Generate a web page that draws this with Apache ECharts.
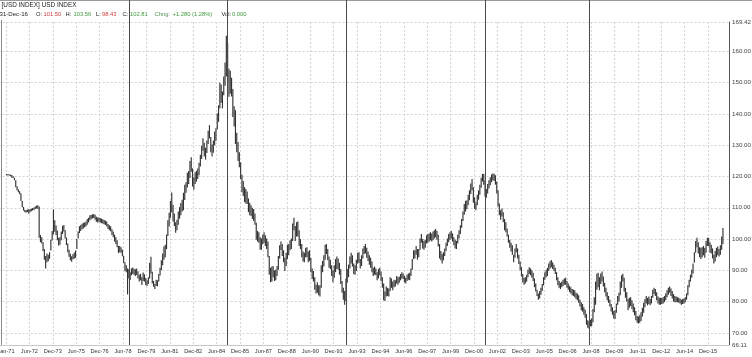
<!DOCTYPE html>
<html><head><meta charset="utf-8">
<script src="https://cdn.jsdelivr.net/npm/echarts@6/dist/echarts.min.js"></script>
<style>html,body{margin:0;padding:0;background:#fff}#c{width:752px;height:357px}</style>
</head><body><div id="c"></div>
<script>
// x tick labels, one every 18 months starting Jan 1971
const xTickLabels = ['Jan-71','Jun-72','Dec-73','Jun-75','Dec-76','Jun-78','Dec-79','Jun-81','Dec-82','Jun-84',
  'Dec-85','Jun-87','Dec-88','Jun-90','Dec-91','Jun-93','Dec-94','Jun-96','Dec-97','Jun-99',
  'Dec-00','Jun-02','Dec-03','Jun-05','Dec-06','Jun-08','Dec-09','Jun-11','Dec-12','Jun-14','Dec-15'];
const yTickValues = [66.11,70,80,90,100,110,120,130,140,150,160,169.42];
// cycle marker positions, in months since Jan 1971
const cycleMonths = [94.4,169.8,261.3,368.5,448.5];
const headerTitle = '[USD INDEX] USD INDEX';
const quoteDate = '31-Dec-16';
const quoteOpen = '101.50', quoteHigh = '103.56', quoteLow = '98.43', quoteClose = '102.81';
const quoteChange = '+1.280 (1.28%)', quoteVol = '0.000';

// monthly lows, Jan 1971 .. Dec 2016 (one row per year)
const lows = [
120.4,120.3,120.3,120.1,119.6,119.5,118.8,116.6,115.6,115.0,114.3,112.2,
110.2,109.1,108.6,108.5,108.6,108.1,108.6,108.9,109.1,109.3,109.6,109.8,
109.6,100.4,99.0,98.6,96.2,93.4,90.6,92.6,92.9,93.7,96.3,99.5,
101.5,102.3,101.3,99.6,97.9,98.2,99.6,101.6,102.4,100.2,98.1,95.8,
94.3,93.2,92.7,93.5,93.7,94.0,96.8,100.2,101.9,102.6,103.1,103.4,
103.8,104.0,104.6,105.3,106.0,106.3,106.6,106.7,106.2,105.5,105.3,105.5,
105.3,105.1,104.9,104.7,104.5,104.0,103.2,102.8,102.5,101.3,100.6,99.2,
98.4,97.4,95.5,95.8,95.6,94.5,92.3,89.8,89.4,82.3,87.4,86.9,
88.4,88.8,88.6,88.2,88.5,87.4,86.4,86.8,85.3,86.6,86.4,85.3,
85.0,85.6,87.4,89.0,85.8,84.8,84.0,85.0,84.9,86.4,88.3,90.0,
91.6,93.4,94.2,96.8,101.0,104.0,106.8,108.5,105.6,104.2,102.0,102.8,
104.6,106.5,107.6,108.8,109.2,112.5,114.8,116.5,117.6,119.5,121.5,116.8,
115.8,117.6,118.4,119.2,120.4,123.2,125.6,128.2,126.4,125.4,127.5,130.4,
132.2,127.8,126.4,127.6,130.0,131.4,135.0,137.5,141.8,143.6,141.8,146.0,
149.0,152.0,150.4,145.5,146.5,145.6,139.0,136.0,130.4,127.8,125.0,123.0,
119.2,115.0,113.8,111.8,111.4,111.2,108.6,107.6,107.4,106.4,105.8,104.6,
99.8,99.2,98.8,96.6,96.6,98.3,98.8,97.8,96.8,94.2,88.6,86.2,
86.4,87.8,86.6,86.8,88.2,90.2,93.8,96.5,94.6,92.6,89.8,91.4,
93.6,94.8,96.4,96.8,99.4,102.8,99.4,100.8,100.8,97.8,96.8,94.2,
92.8,92.6,94.2,94.2,92.6,93.0,89.4,87.2,86.4,83.8,82.6,82.8,
82.0,81.6,84.4,89.4,91.2,93.4,95.2,93.2,90.8,90.4,88.2,86.2,
87.6,89.4,90.4,90.2,88.6,85.6,82.8,80.6,79.0,80.2,86.0,87.8,
90.6,92.2,91.2,88.8,88.6,89.8,92.2,92.4,90.6,91.4,93.8,95.2,
95.4,94.0,93.0,91.8,90.8,89.4,88.2,88.6,88.4,86.8,87.4,88.4,
86.6,84.4,80.4,80.2,81.6,81.8,81.6,83.4,84.4,83.6,84.6,84.8,
85.8,85.4,86.0,86.8,87.4,87.2,86.2,85.8,86.6,87.0,86.8,88.2,
90.2,93.6,93.8,95.0,93.4,94.2,96.6,98.8,97.0,96.6,97.2,98.6,
98.8,99.2,99.6,99.2,99.6,100.2,100.6,99.8,97.6,93.8,93.2,92.2,
93.2,94.6,96.2,97.8,99.0,99.8,100.2,99.2,98.0,97.0,96.8,98.6,
100.2,101.6,103.6,105.8,107.8,108.8,109.6,110.8,112.4,114.4,115.6,111.6,
109.6,109.2,110.8,112.6,114.2,116.4,118.4,117.4,113.6,113.2,114.6,116.2,
117.2,118.2,118.8,118.6,117.4,114.6,110.4,107.6,106.2,107.2,105.4,102.8,
102.2,100.8,98.8,97.2,96.0,95.0,92.6,94.0,95.8,93.8,92.0,90.0,
88.0,86.2,85.4,85.8,86.4,87.8,88.8,88.4,87.6,86.6,84.6,83.2,
81.8,80.6,81.0,82.2,83.4,85.2,87.0,87.8,88.2,89.8,90.6,91.0,
90.4,89.8,88.8,86.8,85.2,84.4,84.0,84.6,85.0,85.4,85.4,84.4,
83.8,83.0,82.6,82.0,81.8,81.4,80.8,80.4,79.6,78.4,77.2,76.8,
75.8,74.8,72.6,71.6,71.3,72.0,72.2,73.4,76.6,79.0,83.8,84.6,
83.6,85.6,86.4,84.8,83.0,81.6,80.4,79.6,78.4,76.8,75.8,74.6,
74.4,76.4,79.0,80.0,82.0,84.4,86.4,83.2,81.2,80.0,77.2,78.0,
78.6,77.6,76.6,75.6,74.0,73.2,73.0,73.2,73.8,75.2,76.4,78.2,
79.4,78.8,79.2,78.8,79.4,81.2,82.4,81.8,80.4,79.4,79.0,79.0,
79.2,79.4,79.8,80.4,81.4,82.2,82.8,81.8,81.0,80.0,79.8,79.8,
79.8,79.6,79.4,79.0,79.2,79.4,79.8,80.6,82.0,84.6,86.4,87.6,
89.0,92.4,95.6,97.4,95.4,94.2,93.6,94.2,94.8,94.0,95.6,97.8,
97.8,95.6,95.4,93.8,92.2,92.8,94.2,94.8,94.4,95.0,96.6,98.4
];
// monthly highs, Jan 1971 .. Dec 2016 (one row per year)
const highs = [
120.8,120.7,120.7,120.6,120.5,120.1,119.6,118.8,116.9,115.9,115.3,114.6,
112.2,110.3,109.4,109.3,109.4,109.5,109.6,109.7,109.9,110.1,110.4,110.7,
110.8,110.4,101.3,100.6,99.0,96.8,94.6,95.4,95.0,95.8,99.8,102.6,
109.5,106.0,104.3,102.7,100.4,100.6,102.4,104.2,104.5,102.8,100.5,98.6,
96.6,95.3,94.5,95.1,95.7,96.3,100.0,102.4,104.1,104.5,104.9,105.2,
105.3,105.6,106.4,106.8,107.6,107.7,107.9,108.0,107.8,107.1,106.9,106.9,
106.7,106.5,106.3,106.1,105.9,105.6,104.8,104.4,104.1,103.1,102.4,101.4,
100.6,99.6,97.8,97.8,97.4,96.6,94.6,92.6,91.6,90.6,90.3,89.4,
90.6,90.9,90.5,90.3,90.6,89.7,88.6,88.9,87.8,89.3,88.7,87.5,
86.8,87.8,92.4,94.3,89.5,86.6,85.6,87.0,86.8,88.8,90.8,93.2,
95.4,97.6,98.2,101.4,106.0,108.4,112.2,114.9,111.0,108.2,105.4,106.2,
108.8,110.2,111.5,112.6,114.8,117.4,118.2,121.2,121.8,125.0,126.2,122.6,
119.8,121.4,121.8,122.6,124.4,127.0,129.8,132.2,130.8,129.2,131.5,134.6,
136.4,132.6,130.2,131.5,134.4,135.4,140.2,142.8,150.0,149.4,147.2,152.0,
156.5,165.0,162.6,154.5,153.8,151.6,148.0,142.5,141.2,134.0,131.0,127.8,
124.6,120.6,118.6,116.6,116.0,115.2,113.0,111.6,110.8,110.0,109.6,108.2,
105.2,102.6,102.2,100.6,100.2,101.4,102.2,101.2,100.2,99.2,94.6,90.8,
91.2,91.4,90.0,90.2,91.4,94.6,98.0,99.2,98.4,96.4,94.0,95.6,
98.2,98.4,99.6,100.2,105.0,106.8,104.2,105.4,105.6,102.8,100.0,98.4,
96.0,95.6,97.2,97.4,96.0,96.4,94.0,90.6,89.8,87.8,85.4,86.2,
85.2,85.2,91.6,93.0,94.8,98.2,98.4,96.8,94.4,93.4,91.6,90.0,
91.6,93.6,94.4,93.8,92.4,90.4,86.6,84.4,83.4,87.4,90.4,91.8,
94.4,95.6,94.8,92.2,91.6,93.4,95.6,95.8,93.6,94.8,97.0,97.8,
98.4,97.2,96.0,94.8,94.0,92.8,90.8,91.2,90.6,89.4,90.4,90.8,
89.6,87.8,85.8,83.2,84.8,84.4,84.2,87.8,87.4,86.4,87.0,86.8,
88.2,87.8,88.0,88.8,89.4,89.0,88.2,87.6,88.6,89.0,89.2,90.6,
93.6,96.4,96.4,97.8,96.8,96.8,100.2,101.6,100.0,99.4,99.8,101.2,
101.6,101.8,102.2,101.8,102.4,102.8,103.2,102.6,101.4,98.4,96.2,95.2,
95.8,97.0,98.8,100.2,101.6,102.2,102.6,101.8,100.6,99.8,99.4,101.4,
102.8,104.4,106.4,108.8,111.2,112.2,112.4,114.2,115.6,117.8,119.2,116.6,
113.4,111.8,114.2,115.6,117.4,119.6,120.8,120.9,118.8,116.0,117.6,118.8,
119.8,120.7,121.0,120.9,120.4,118.4,115.6,111.4,109.2,109.8,108.6,106.4,
105.4,103.4,101.4,99.8,98.8,98.0,95.0,97.0,98.4,97.0,95.0,92.8,
91.0,88.8,87.6,87.8,88.6,90.2,91.0,90.6,90.0,89.2,87.4,85.8,
83.8,82.6,83.4,84.4,85.6,87.8,89.4,90.2,90.8,92.2,92.9,93.3,
92.6,91.8,90.8,89.4,87.8,86.6,86.0,86.4,87.0,87.4,87.6,86.6,
85.8,85.0,84.6,84.0,83.8,83.6,82.8,82.6,82.0,80.6,79.8,79.2,
78.2,77.4,76.0,74.0,73.6,74.2,74.6,77.6,81.4,86.4,88.9,89.2,
87.8,89.0,89.6,88.0,86.0,84.4,83.0,81.8,80.6,79.2,78.2,77.0,
77.2,79.4,81.8,82.8,86.4,88.4,88.9,87.6,84.4,83.0,80.8,81.2,
81.4,80.4,79.4,78.2,77.0,75.4,75.2,75.6,76.6,78.0,79.6,80.8,
81.8,81.2,81.6,80.8,81.8,83.8,84.4,84.0,83.0,81.6,81.2,81.2,
81.2,81.4,81.8,82.6,83.6,84.4,84.8,84.2,83.4,82.4,81.8,81.6,
81.4,81.2,81.0,80.6,80.8,81.0,81.4,82.6,85.2,87.0,88.6,90.2,
92.2,95.8,99.4,100.4,99.0,97.4,97.2,97.4,97.8,97.2,99.4,100.4,
100.4,99.0,98.2,97.0,95.0,96.2,97.2,97.6,96.8,98.0,100.8,103.56
];

const FONT = '"Liberation Sans", Arial, sans-serif';
const chart = echarts.init(document.getElementById('c'), null, {renderer: 'canvas'});

const barData = lows.map((lo, i) => [i + 0.5, lo, highs[i]]);
const cycleData = cycleMonths.map(m => [m, 0]);

function renderBar(params, api) {
  const a = api.coord([api.value(0), api.value(1)]);
  const b = api.coord([api.value(0), api.value(2)]);
  return {type: 'line', shape: {x1: a[0], y1: a[1], x2: b[0], y2: b[1]},
    style: {stroke: '#333333', lineWidth: 1.15}};
}
function renderCycle(params, api) {
  const t = api.coord([api.value(0), 1]);
  const b = api.coord([api.value(0), 0]);
  const x = Math.round(t[0]) + 0.5;
  return {type: 'line', shape: {x1: x, y1: t[1], x2: x, y2: b[1]},
    style: {stroke: '#4a4a4a', lineWidth: 1}};
}

function txt(text, x, y, color, size) {
  return {type: 'text', left: x, top: y, silent: true,
    style: {text: text, fill: color, font: size + 'px ' + FONT}};
}
const BLK = '#222', RED = '#d03a3a', GRN = '#3f9a3f';
const S2 = 5.8;

const option = {
  animation: false,
  backgroundColor: '#ffffff',
  grid: [
    {left: -17.4, right: 23, top: 22, bottom: 12, outerBoundsMode: 'none', containLabel: false},
    {left: -17.4, right: 23, top: 0, bottom: 12, outerBoundsMode: 'none', containLabel: false}
  ],
  xAxis: [
    {type: 'value', gridIndex: 0, min: -18, max: 556.15, interval: 18,
     axisLine: {show: true, onZero: false, lineStyle: {color: '#c8c8c8', width: 1}},
     axisTick: {show: false},
     axisLabel: {show: true, margin: 3, fontSize: 5.6, color: '#333', fontFamily: FONT,
       formatter: function (v) {
         const k = Math.round(v / 18);
         if (Math.abs(v - k * 18) > 0.01 || k < 0 || k >= xTickLabels.length) return '';
         return xTickLabels[k];
       }},
     splitLine: {show: true, lineStyle: {color: '#d4d4d4', type: [2, 2], width: 1}}},
    {type: 'value', gridIndex: 1, min: -18, max: 556.15, show: false}
  ],
  yAxis: [
    {type: 'value', gridIndex: 0, position: 'right', min: 66.11, max: 169.42,
     splitNumber: 10, minInterval: 10, maxInterval: 10,
     axisLine: {show: true, onZero: false, lineStyle: {color: '#555', width: 1}},
     axisTick: {show: false},
     axisLabel: {show: true, margin: 3, fontSize: 6.2, color: '#444', fontFamily: FONT,
       customValues: yTickValues,
       formatter: function (v) { return Number(v).toFixed(2); }},
     splitLine: {show: true, lineStyle: {color: '#d4d4d4', type: [2, 2], width: 1}}},
    {type: 'value', gridIndex: 1, min: 0, max: 1, show: false}
  ],
  series: [
    {type: 'custom', xAxisIndex: 0, yAxisIndex: 0, renderItem: renderBar,
     encode: {x: 0, y: [1, 2]}, data: barData, clip: true, silent: true},
    {type: 'custom', xAxisIndex: 1, yAxisIndex: 1, renderItem: renderCycle,
     encode: {x: 0, y: 1}, data: cycleData, silent: true, z: 5}
  ],
  graphic: [
    {type: 'line', silent: true, shape: {x1: 0, y1: 0.5, x2: 752, y2: 0.5}, style: {stroke: '#9a9a9a', lineWidth: 1}},
    {type: 'line', silent: true, shape: {x1: 1.5, y1: 20, x2: 1.5, y2: 346}, style: {stroke: '#8a8a8a', lineWidth: 1}},
    txt(headerTitle, 1.5, 2, BLK, 6.4),
    txt(quoteDate, -0.5, 11.2, BLK, 6.1),
    txt('O:', 36, 11.2, BLK, S2), txt(quoteOpen, 43.5, 11.2, RED, S2),
    txt('H:', 65.5, 11.2, BLK, S2), txt(quoteHigh, 73.5, 11.2, GRN, S2),
    txt('L:', 96, 11.2, BLK, S2), txt(quoteLow, 102, 11.2, RED, S2),
    txt('C:', 122.5, 11.2, BLK, S2), txt(quoteClose, 130, 11.2, GRN, S2),
    txt('Chng:', 154.5, 11.2, '#4f8f4f', S2), txt(quoteChange, 172.5, 11.2, GRN, S2),
    txt('Vol:', 221.5, 11.2, BLK, S2), txt(quoteVol, 232, 11.2, GRN, S2)
  ]
};
chart.setOption(option);
</script>
</body></html>
